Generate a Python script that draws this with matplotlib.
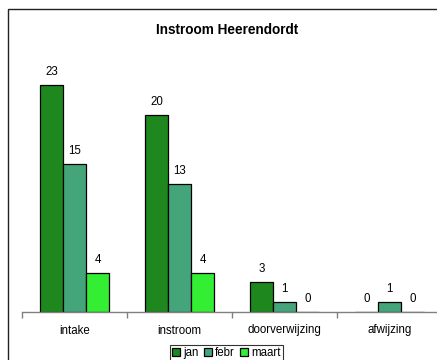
"""
Instroom Heerendordt: grouped bar chart per month.
"""

import matplotlib

matplotlib.use("Agg")
import matplotlib.pyplot as plt
import numpy as np
from matplotlib.patches import Rectangle

CATEGORIES = ["intake", "instroom", "doorverwijzing", "afwijzing"]
MONTHS = ["jan", "febr", "maart"]
JAN = [23, 20, 3, 0]
FEBR = [15, 13, 1, 1]
MAART = [4, 4, 0, 0]

COLORS = {
    "jan": "#1E871E",
    "febr": "#45A57A",
    "maart": "#33EE33",
}

W, H = 437, 360


def main() -> None:
    plt.rcParams.update(
        {
            "font.family": ["Liberation Sans", "DejaVu Sans"],
            "font.size": 8.3,
        }
    )
    fig = plt.figure(figsize=(W / 100, H / 100), dpi=100)
    fig.patch.set_facecolor("white")

    # outer chart border (right and bottom run off the picture)
    fig.patches.append(
        Rectangle(
            (8 / W, -0.1),
            1.2,
            (H - 9) / H + 0.1,
            transform=fig.transFigure,
            fill=False,
            edgecolor="#222222",
            linewidth=1.0,
        )
    )

    ax = fig.add_axes([22 / W, 48 / H, 420 / W, 246.7 / H])
    ax.set_facecolor("none")

    x = np.arange(len(CATEGORIES))
    width = 0.22
    series = {"jan": JAN, "febr": FEBR, "maart": MAART}
    for i, name in enumerate(MONTHS):
        values = series[name]
        bars = ax.bar(
            x + (i - 1) * width,
            values,
            width=width,
            color=COLORS[name],
            edgecolor="black",
            linewidth=0.9,
            label=name,
        )
        for bar, value in zip(bars, values):
            ax.annotate(
                f"{value}",
                (bar.get_x() + bar.get_width() / 2, value),
                xytext=(0, 5),
                textcoords="offset points",
                ha="center",
                va="bottom",
                fontsize=8.3,
            )

    ax.set_xlim(-0.5, 3.5)
    ax.set_ylim(0, 25)
    ax.set_yticks([])
    for side in ("top", "right", "left"):
        ax.spines[side].set_visible(False)
    ax.spines["bottom"].set_color("#808080")
    ax.spines["bottom"].set_linewidth(1.0)

    ax.set_xticks(x)
    ax.set_xticklabels(CATEGORIES)
    ax.tick_params(axis="x", which="major", length=0, pad=9, labelsize=8.3)
    ax.set_xticks(np.arange(-0.5, 3.6, 1.0), minor=True)
    ax.tick_params(axis="x", which="minor", length=4, width=1.0, color="#808080")

    fig.text(
        0.52, (H - 30) / H, "Instroom Heerendordt",
        ha="center", va="center", fontsize=9.8, fontweight="bold",
    )

    leg = fig.legend(
        loc="upper center",
        bbox_to_anchor=(0.518, 15 / H),
        ncol=3,
        fancybox=False,
        frameon=True,
        fontsize=8.3,
        handlelength=0.7,
        handleheight=0.7,
        handletextpad=0.25,
        columnspacing=0.45,
        borderpad=0.2,
        borderaxespad=0,
    )
    leg.get_frame().set_edgecolor("black")
    leg.get_frame().set_linewidth(0.8)

    fig.savefig("out.png", dpi=100)
    plt.close(fig)


if __name__ == "__main__":
    main()
